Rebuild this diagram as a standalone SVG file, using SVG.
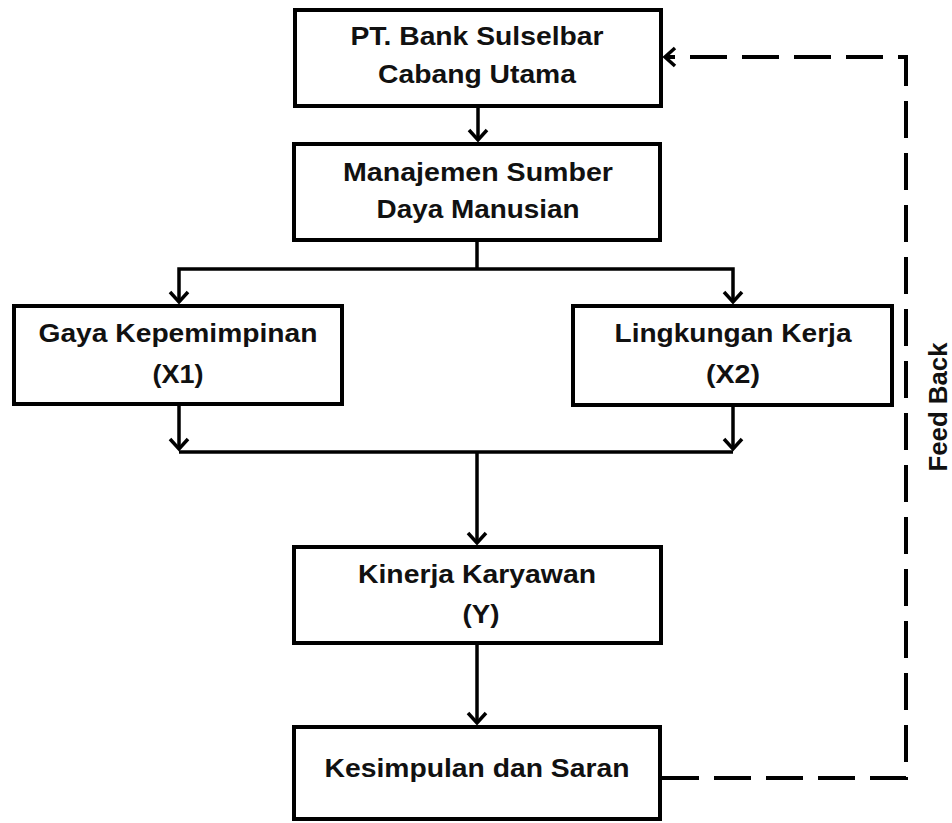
<svg xmlns="http://www.w3.org/2000/svg" width="952" height="823" viewBox="0 0 952 823">
<style>
.box{fill:#fff;stroke:#000;stroke-width:4}
.lbl{font-family:"Liberation Sans",Arial,sans-serif;font-weight:bold;font-size:25px;fill:#111;text-anchor:middle}
.con{fill:none;stroke:#000;stroke-width:3.5}
.dash{fill:none;stroke:#000;stroke-width:4;stroke-dasharray:37 15}
</style>
<defs>
<marker id="arr" markerUnits="userSpaceOnUse" markerWidth="24" markerHeight="24" viewBox="-14 -12 16 24" refX="0" refY="0" orient="auto">
<path d="M-10,-9 L0,0 L-10,9" fill="none" stroke="#000" stroke-width="3.5"/>
</marker>
</defs>
<rect width="952" height="823" fill="#fff"/>
<g id="connectors">
<path class="con" d="M478,108 V140" marker-end="url(#arr)"/>
<path class="con" d="M477,242 V269"/>
<path class="con" d="M477,269 H179 V302" marker-end="url(#arr)"/>
<path class="con" d="M477,269 H733 V302" marker-end="url(#arr)"/>
<path class="con" d="M179,406 V449" marker-end="url(#arr)"/>
<path class="con" d="M733,407 V449" marker-end="url(#arr)"/>
<path class="con" d="M179,452 H733"/>
<path class="con" d="M477,452 V543" marker-end="url(#arr)"/>
<path class="con" d="M477,645 V723" marker-end="url(#arr)"/>
<path class="dash" d="M662,778 H906 V57 H665" marker-end="url(#arr)"/>
</g>
<g id="n1"><rect class="box" x="295" y="10" width="366" height="96"/>
<text class="lbl" x="477" y="45" textLength="253" lengthAdjust="spacingAndGlyphs">PT. Bank Sulselbar</text>
<text class="lbl" x="477" y="83" textLength="198" lengthAdjust="spacingAndGlyphs">Cabang Utama</text></g>
<g id="n2"><rect class="box" x="294" y="144" width="366" height="96"/>
<text class="lbl" x="478" y="181" textLength="270" lengthAdjust="spacingAndGlyphs">Manajemen Sumber</text>
<text class="lbl" x="478" y="218" textLength="203" lengthAdjust="spacingAndGlyphs">Daya Manusian</text></g>
<g id="n3"><rect class="box" x="14" y="306" width="328" height="98"/>
<text class="lbl" x="178" y="342" textLength="279" lengthAdjust="spacingAndGlyphs">Gaya Kepemimpinan</text>
<text class="lbl" x="178" y="383" textLength="51" lengthAdjust="spacingAndGlyphs">(X1)</text></g>
<g id="n4"><rect class="box" x="573" y="306" width="319" height="99"/>
<text class="lbl" x="733" y="342" textLength="237" lengthAdjust="spacingAndGlyphs">Lingkungan Kerja</text>
<text class="lbl" x="733" y="383" textLength="54" lengthAdjust="spacingAndGlyphs">(X2)</text></g>
<g id="n5"><rect class="box" x="294" y="547" width="367" height="96"/>
<text class="lbl" x="477" y="583" textLength="238" lengthAdjust="spacingAndGlyphs">Kinerja Karyawan</text>
<text class="lbl" x="481" y="623" textLength="37" lengthAdjust="spacingAndGlyphs">(Y)</text></g>
<g id="n6"><rect class="box" x="294" y="727" width="366" height="92"/>
<text class="lbl" x="477" y="777" textLength="305" lengthAdjust="spacingAndGlyphs">Kesimpulan dan Saran</text></g>
<g id="feedback-label">
<text class="lbl" transform="translate(947,407) rotate(-90)" x="0" y="0" textLength="129" lengthAdjust="spacingAndGlyphs">Feed Back</text></g>
</svg>
